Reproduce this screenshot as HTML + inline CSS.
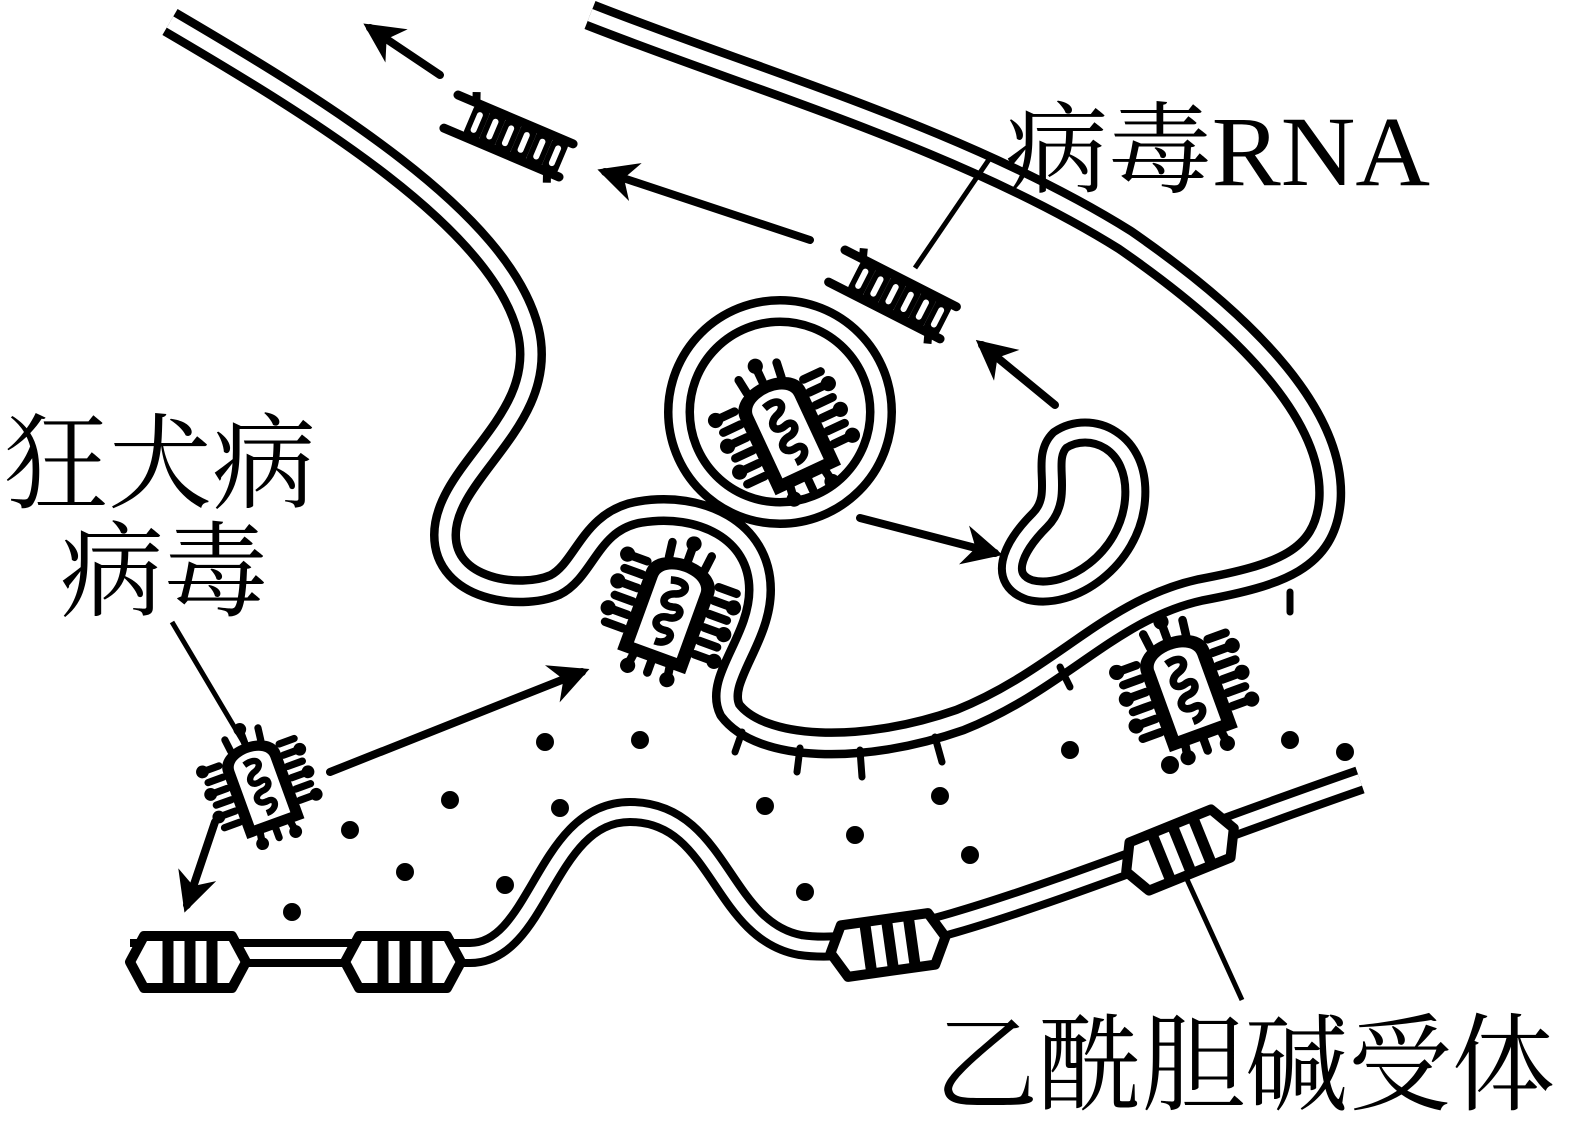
<!DOCTYPE html>
<html><head><meta charset="utf-8"><style>
html,body{margin:0;padding:0;background:#fff;}
svg{display:block}
text{font-family:"Liberation Serif","Noto Serif CJK SC","Noto Sans CJK SC",serif;fill:#000}
</style></head><body>
<svg width="1583" height="1136" viewBox="0 0 1583 1136" xmlns="http://www.w3.org/2000/svg">
<defs>
<marker id="ah" viewBox="0 0 10 10" refX="8" refY="5" markerWidth="5" markerHeight="5" orient="auto"><path d="M0,0 L10,5 L0,10 L3,5 Z" fill="#000"/></marker>
<g id="virus">
  <g stroke="#000" stroke-width="9" stroke-linecap="round">
    <line x1="-40" y1="-40" x2="-60" y2="-40"/><line x1="-40" y1="-25" x2="-60" y2="-25"/><line x1="-40" y1="-10" x2="-60" y2="-10"/><line x1="-40" y1="5" x2="-60" y2="5"/><line x1="-40" y1="20" x2="-60" y2="20"/><line x1="-40" y1="35" x2="-60" y2="35"/>
    <line x1="40" y1="-40" x2="60" y2="-40"/><line x1="40" y1="-25" x2="60" y2="-25"/><line x1="40" y1="-10" x2="60" y2="-10"/><line x1="40" y1="5" x2="60" y2="5"/><line x1="40" y1="20" x2="60" y2="20"/><line x1="40" y1="35" x2="60" y2="35"/>
    <line x1="-20" y1="-52" x2="-22" y2="-68"/><line x1="0" y1="-56" x2="0" y2="-72"/><line x1="20" y1="-52" x2="22" y2="-68"/>
    <line x1="-20" y1="55" x2="-22" y2="68"/><line x1="0" y1="55" x2="0" y2="70"/><line x1="20" y1="55" x2="22" y2="68"/>
  </g>
  <g fill="#000">
    <circle cx="-62" cy="-40" r="8"/><circle cx="-62" cy="-10" r="8"/><circle cx="-62" cy="20" r="8"/><circle cx="62" cy="-25" r="8"/><circle cx="62" cy="5" r="8"/><circle cx="62" cy="35" r="8"/>
    <circle cx="0" cy="-74" r="8"/><circle cx="-22" cy="70" r="8"/><circle cx="22" cy="70" r="8"/>
  </g>
  <path d="M-38,58 L-38,-30 C-38,-64 38,-64 38,-30 L38,58 Z" fill="#000"/>
  <path d="M-24,45 L-24,-28 C-24,-48 24,-48 24,-28 L24,45 Z" fill="#fff"/>
  <path d="M-10,-30 C10,-36 12,-22 0,-18 C-14,-14 -12,0 2,-4 C14,-8 14,8 0,8 C-14,10 -12,24 2,22 C14,20 12,36 -4,36" fill="none" stroke="#000" stroke-width="8"/>
</g>
<g id="ladder">
  <line x1="0" y1="0" x2="125" y2="0" stroke="#000" stroke-width="9" stroke-linecap="round"/>
  <line x1="0" y1="36" x2="125" y2="36" stroke="#000" stroke-width="9" stroke-linecap="round"/>
  <line x1="20" y1="0" x2="16" y2="-10" stroke="#000" stroke-width="8"/>
  <line x1="112" y1="36" x2="116" y2="46" stroke="#000" stroke-width="8"/>
  <g stroke="#000" stroke-width="17" stroke-linecap="round">
    <line x1="28" y1="6" x2="28" y2="30"/><line x1="45" y1="6" x2="45" y2="30"/><line x1="62" y1="6" x2="62" y2="30"/><line x1="79" y1="6" x2="79" y2="30"/><line x1="96" y1="6" x2="96" y2="30"/><line x1="113" y1="6" x2="113" y2="30"/>
  </g>
  <g stroke="#fff" stroke-width="6" stroke-linecap="round">
    <line x1="28" y1="10" x2="28" y2="26"/><line x1="45" y1="10" x2="45" y2="26"/><line x1="62" y1="10" x2="62" y2="26"/><line x1="79" y1="10" x2="79" y2="26"/><line x1="96" y1="10" x2="96" y2="26"/><line x1="113" y1="10" x2="113" y2="26"/>
  </g>
</g>
<g id="rec">
  <path d="M-58,0 L-44,-26 L44,-26 L58,0 L44,26 L-44,26 Z" fill="#fff" stroke="#000" stroke-width="10" stroke-linejoin="round"/>
  <g stroke="#000" stroke-width="11"><line x1="-20" y1="-26" x2="-20" y2="26"/><line x1="2" y1="-26" x2="2" y2="26"/><line x1="24" y1="-26" x2="24" y2="26"/></g>
</g>
</defs>

<path d="M170,22 C320,110 500,220 528,330 C550,420 445,470 445,535 C445,590 520,600 555,585 C585,570 590,520 640,512 C700,502 760,530 760,590 C760,640 715,680 730,710 C760,750 860,755 960,720 C1060,680 1110,610 1200,590 C1280,575 1325,560 1330,500 C1335,420 1255,330 1125,240 C965,140 755,80 590,15" fill="none" stroke="#000" stroke-width="30"/>
<path d="M170,22 C320,110 500,220 528,330 C550,420 445,470 445,535 C445,590 520,600 555,585 C585,570 590,520 640,512 C700,502 760,530 760,590 C760,640 715,680 730,710 C760,750 860,755 960,720 C1060,680 1110,610 1200,590 C1280,575 1325,560 1330,500 C1335,420 1255,330 1125,240 C965,140 755,80 590,15" fill="none" stroke="#fff" stroke-width="13"/>

<g stroke="#000" stroke-width="7" stroke-linecap="round">
<line x1="742" y1="732" x2="735" y2="752"/><line x1="800" y1="748" x2="797" y2="772"/><line x1="860" y1="750" x2="862" y2="777"/><line x1="935" y1="737" x2="942" y2="762"/><line x1="1060" y1="667" x2="1070" y2="687"/><line x1="1290" y1="592" x2="1290" y2="612"/>
</g>

<path d="M130,953 L470,953 C540,953 545,812 630,812 C720,812 720,930 800,945 C900,960 1100,870 1360,780" fill="none" stroke="#000" stroke-width="28"/>
<path d="M130,953 L470,953 C540,953 545,812 630,812 C720,812 720,930 800,945 C900,960 1100,870 1360,780" fill="none" stroke="#fff" stroke-width="12"/>
<use href="#rec" transform="translate(188,962)"/>
<use href="#rec" transform="translate(403,962)"/>
<use href="#rec" transform="translate(888,945) rotate(-8)"/>
<use href="#rec" transform="translate(1180,850) rotate(-22)"/>

<circle cx="780" cy="412" r="101" fill="#fff" stroke="#000" stroke-width="30"/>
<circle cx="780" cy="412" r="101" fill="none" stroke="#fff" stroke-width="13"/>
<use href="#virus" transform="translate(785,430) rotate(-25) scale(0.95)"/>

<path d="M1060,440 C1090,420 1140,440 1135,500 C1130,560 1070,600 1030,590 C1000,580 1010,550 1040,520 C1065,495 1040,460 1060,440 Z" fill="none" stroke="#000" stroke-width="28"/>
<path d="M1060,440 C1090,420 1140,440 1135,500 C1130,560 1070,600 1030,590 C1000,580 1010,550 1040,520 C1065,495 1040,460 1060,440 Z" fill="none" stroke="#fff" stroke-width="12"/>

<use href="#virus" transform="translate(670,610) rotate(20) scale(0.95)"/>
<use href="#virus" transform="translate(1185,688) rotate(-20) scale(0.95)"/>
<use href="#virus" transform="translate(260,785) rotate(-20) scale(0.8)"/>

<use href="#ladder" transform="translate(458,95) rotate(23)"/>
<use href="#ladder" transform="translate(845,250) rotate(27)"/>

<g fill="#000">
<circle cx="545" cy="742" r="9"/><circle cx="640" cy="740" r="9"/><circle cx="450" cy="800" r="9"/><circle cx="350" cy="830" r="9"/><circle cx="560" cy="808" r="9"/><circle cx="765" cy="806" r="9"/><circle cx="940" cy="796" r="9"/><circle cx="1070" cy="750" r="9"/><circle cx="1170" cy="765" r="9"/><circle cx="1290" cy="740" r="9"/><circle cx="1345" cy="752" r="9"/><circle cx="855" cy="835" r="9"/><circle cx="970" cy="855" r="9"/><circle cx="405" cy="872" r="9"/><circle cx="505" cy="885" r="9"/><circle cx="805" cy="892" r="9"/><circle cx="292" cy="912" r="9"/>
</g>

<g stroke="#000" stroke-width="8" fill="none" stroke-linecap="round">
<line x1="440" y1="75" x2="370" y2="28" marker-end="url(#ah)"/>
<line x1="810" y1="240" x2="605" y2="172" marker-end="url(#ah)"/>
<line x1="1055" y1="405" x2="982" y2="345" marker-end="url(#ah)"/>
<line x1="860" y1="518" x2="995" y2="553" marker-end="url(#ah)"/>
<line x1="330" y1="772" x2="582" y2="672" marker-end="url(#ah)"/>
<line x1="215" y1="822" x2="187" y2="905" marker-end="url(#ah)"/>
</g>

<g stroke="#000" stroke-width="5">
<line x1="990" y1="158" x2="915" y2="268"/>
<line x1="172" y1="622" x2="245" y2="745"/>
<line x1="1185" y1="875" x2="1242" y2="1000"/>
</g>

<text x="1005" y="185" font-size="100" textLength="425" lengthAdjust="spacingAndGlyphs">病毒RNA</text>
<text x="4" y="500" font-size="104">狂犬病</text>
<text x="60" y="608" font-size="104">病毒</text>
<text x="935" y="1102" font-size="106" textLength="620" lengthAdjust="spacingAndGlyphs">乙酰胆碱受体</text>
</svg>
</body></html>
